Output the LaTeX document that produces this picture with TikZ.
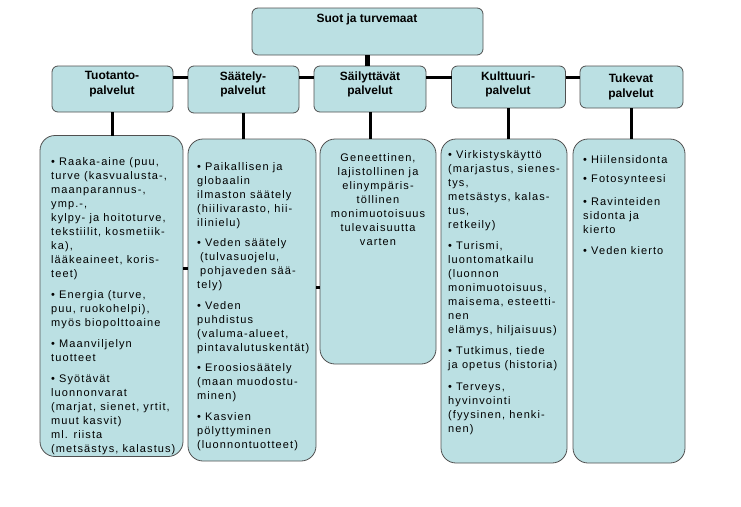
\documentclass[tikz,border=0pt]{standalone}
\usepackage{fontspec}
\setmainfont{Liberation Sans}
\newfontfamily\bodyfont[LetterSpace=10]{Liberation Sans}
\definecolor{boxfill}{RGB}{187,224,227}
\definecolor{boxline}{RGB}{80,80,80}
\begin{document}
\begin{tikzpicture}[x=1pt,y=-1pt,
  box/.style={draw=boxline, fill=boxfill, line width=0.8pt, rounded corners=6pt, inner sep=0pt, outer sep=0pt},
  tallbox/.style={box, rounded corners=15pt},
  conn/.style={line width=3pt, draw=black},
  trunk/.style={line width=5pt, draw=black},
  head/.style={font=\fontsize{12}{14.5}\selectfont\bfseries, align=center, inner sep=0pt, anchor=north},
  body/.style={font=\bodyfont\fontsize{11}{14}\selectfont, align=left, inner sep=0pt, anchor=north west},
  bodyc/.style={body, align=center, anchor=north},
]
\useasboundingbox (0,0) rectangle (741,506);

% top box
\node[box, minimum width=231pt, minimum height=47pt] (top) at (367.5,31.5) {};
% header boxes
\node[box, minimum width=121pt, minimum height=46pt] (h1) at (112.5,89) {};
\node[box, minimum width=111pt, minimum height=47pt] (h2) at (243.5,89.5) {};
\node[box, minimum width=112pt, minimum height=46pt] (h3) at (370,89) {};
\node[box, minimum width=114pt, minimum height=42pt] (h4) at (508.5,87) {};
\node[box, minimum width=103pt, minimum height=42pt] (h5) at (631.5,87) {};
% content boxes
\node[tallbox, minimum width=143pt, minimum height=321pt] (b1) at (111.5,296) {};
\node[tallbox, minimum width=128pt, minimum height=322pt] (b2) at (252,300) {};
\node[tallbox, minimum width=116pt, minimum height=225pt] (b3) at (378,251.5) {};
\node[tallbox, minimum width=126pt, minimum height=324pt] (b4) at (504,301) {};
\node[tallbox, minimum width=112pt, minimum height=324pt] (b5) at (629,301) {};

% connectors
\coordinate (hl) at (0,77.5);
\coordinate (tk1) at (0,268);
\coordinate (tk2) at (0,287);
\draw[trunk] (top.south) -- (top.south |- h3.north);
\draw[conn] (h1.east |- hl) -- (h2.west |- hl);
\draw[conn] (h2.east |- hl) -- (h3.west |- hl);
\draw[conn] (h3.east |- hl) -- (h4.west |- hl);
\draw[conn] (h4.east |- hl) -- (h5.west |- hl);
\draw[conn] (h1.south) -- (h1.south |- b1.north);
\draw[conn] (h2.south) -- (h2.south |- b2.north);
\draw[conn] (h3.south) -- (h3.south |- b3.north);
\draw[conn] (h4.south) -- (h4.south |- b4.north);
\draw[conn] (h5.south) -- (h5.south |- b5.north);
\draw[conn] (b1.east |- tk1) -- (b2.west |- tk1);
\draw[conn] (b2.east |- tk2) -- (b3.west |- tk2);

% header labels
\node[head] (ttop) at (367,13.5) {Suot ja turvemaat};
\node[head] (th1) at (112,71.5) {Tuotanto-\\palvelut};
\node[head] (th2) at (243,71.5) {Säätely-\\palvelut};
\node[head] (th3) at (370,71.5) {Säilyttävät\\palvelut};
\node[head] (th4) at (508,71.5) {Kulttuuri-\\palvelut};
\node[head] (th5) at (631,74) {Tukevat\\palvelut};

% body texts
\node[body] (tb1) at (51,157) {• Raaka-aine (puu,\\turve (kasvualusta-,\\maanparannus-,\\ymp.-,\\kylpy- ja hoitoturve,\\tekstiilit, kosmetiik-\\ka),\\lääkeaineet, koris-\\teet)\\[7pt]
• Energia (turve,\\puu, ruokohelpi),\\myös biopolttoaine\\[7pt]
• Maanviljelyn\\tuotteet\\[7pt]
• Syötävät\\luonnonvarat\\(marjat, sienet, yrtit,\\muut kasvit)\\ml. riista\\(metsästys, kalastus)};

\node[body] (tb2) at (197,162) {• Paikallisen ja\\globaalin\\ilmaston säätely\\(hiilivarasto, hii-\\ilinielu)\\[6.5pt]
• Veden säätely\\\hspace{3pt}(tulvasuojelu,\\\hspace{3pt}pohjaveden sää-\\tely)\\[6.5pt]
• Veden\\puhdistus\\(valuma-alueet,\\pintavalutuskentät)\\[6.5pt]
• Eroosiosäätely\\(maan muodostu-\\minen)\\[6.5pt]
• Kasvien\\pölyttyminen\\(luonnontuotteet)};

\node[bodyc] (tb3) at (378,153) {Geneettinen,\\lajistollinen ja\\elinympäris-\\töllinen\\monimuotoisuus\\tulevaisuutta\\varten};

\node[body] (tb4) at (448,150) {• Virkistyskäyttö\\(marjastus, sienes-\\tys,\\metsästys, kalas-\\tus,\\retkeily)\\[7pt]
• Turismi,\\luontomatkailu\\(luonnon\\monimuotoisuus,\\maisema, esteetti-\\nen\\elämys, hiljaisuus)\\[7pt]
• Tutkimus, tiede\\ja opetus (historia)\\[8pt]
• Terveys,\\hyvinvointi\\(fyysinen, henki-\\nen)};

\node[body] (tb5) at (583,155) {• Hiilensidonta\\[5pt]• Fotosynteesi\\[9pt]• Ravinteiden\\sidonta ja\\kierto\\[7pt]• Veden kierto};
\end{tikzpicture}
\end{document}
